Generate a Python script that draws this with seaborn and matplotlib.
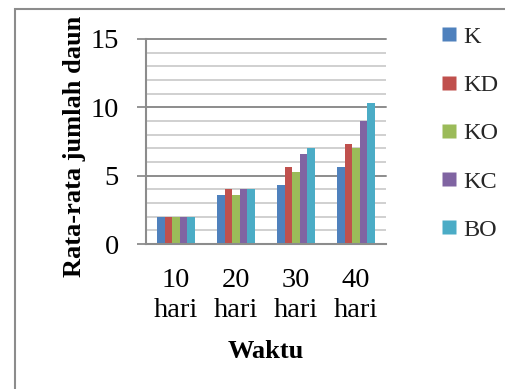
import pandas as pd
import matplotlib.pyplot as plt
from matplotlib.lines import Line2D
from matplotlib.patches import Rectangle
from matplotlib.ticker import MultipleLocator
import seaborn as sns

# data
waktu = ['10\nhari', '20\nhari', '30\nhari', '40\nhari']
perlakuan = ['K', 'KD', 'KO', 'KC', 'BO']
k = [2.0, 3.6, 4.3, 5.6]
kd = [2.0, 4.0, 5.6, 7.3]
ko = [2.0, 3.6, 5.3, 7.0]
kc = [2.0, 4.0, 6.6, 9.0]
bo = [2.0, 4.0, 7.0, 10.3]
warna = ['#4F81BD', '#C0504D', '#9BBB59', '#8064A2', '#4BACC6']

rows = []
for name, vals in zip(perlakuan, [k, kd, ko, kc, bo]):
    for w, v in zip(waktu, vals):
        rows.append({'Waktu': w, 'Perlakuan': name, 'Jumlah': v})
df = pd.DataFrame(rows)

sns.set_style('white')
plt.rcParams['font.family'] = ['Liberation Serif', 'DejaVu Serif']

W, H = 505, 389
fig = plt.figure(figsize=(W / 100, H / 100), dpi=100)
ax = fig.add_axes([146 / W, 1 - 244 / H, 240 / W, 205 / H])

sns.barplot(data=df, x='Waktu', y='Jumlah', hue='Perlakuan', order=waktu,
            hue_order=perlakuan, palette=warna, width=0.63, gap=0,
            saturation=1, errorbar=None, edgecolor='none', linewidth=0,
            legend=False, ax=ax)

ax.set_ylim(0, 15)
ax.set_xlim(-0.5, 3.5)
ax.yaxis.set_major_locator(MultipleLocator(5))
ax.yaxis.set_minor_locator(MultipleLocator(1))
ax.set_axisbelow(True)
ax.grid(which='minor', axis='y', color='#c4c4c4', lw=1.1)
ax.grid(which='major', axis='y', color='#8c8c8c', lw=1.4)
for gl in ax.get_ygridlines():
    gl.set_clip_on(False)

for s in ['top', 'right']:
    ax.spines[s].set_visible(False)
for s in ['left', 'bottom']:
    ax.spines[s].set_color('#8c8c8c')
    ax.spines[s].set_linewidth(1.5)

ax.tick_params(axis='y', which='major', length=6.5, width=1.3, color='#8c8c8c',
               pad=13, labelsize=20.5, left=True, labelcolor='black')
ax.tick_params(axis='y', which='minor', length=0)
ax.tick_params(axis='x', length=0, pad=17.5, labelsize=20.5, labelcolor='black')
for lab in ax.get_xticklabels():
    lab.set_linespacing(1.25)
ax.set_xlabel('')
ax.set_ylabel('')

fig.text(266 / W, 1 - 357.7 / H, 'Waktu', ha='center', va='baseline',
         fontsize=19, fontweight='bold', color='black')
fig.text(81 / W, 1 - 146 / H, 'Rata-rata jumlah daun', rotation=90,
         rotation_mode='anchor', ha='center', va='baseline',
         fontsize=19, fontweight='bold', color='black')

handles = [Line2D([], [], marker='s', linestyle='none', markersize=10,
                  markerfacecolor=c, markeredgecolor='none') for c in warna]
fig.legend(handles, perlakuan, loc='center left',
           bbox_to_anchor=(441 / W, 1 - 133.3 / H), frameon=False,
           fontsize=17.5, borderpad=0, borderaxespad=0, handlelength=0.65,
           handletextpad=0.25, labelspacing=1.08)

fig.patches.append(Rectangle((15 / W, -0.1), 2, (H - 9) / H + 0.1,
                             transform=fig.transFigure, fill=False,
                             edgecolor='#8c8c8c', lw=1.5))

fig.savefig('out.png', dpi=100)
